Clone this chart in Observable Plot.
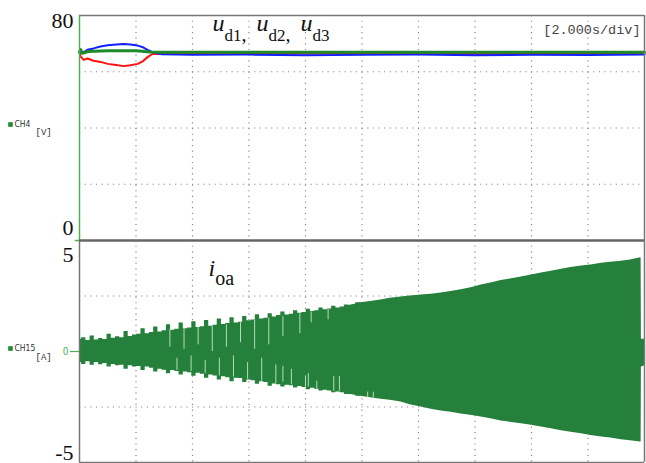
<!DOCTYPE html>
<html>
<head>
<meta charset="utf-8">
<script src="https://cdn.jsdelivr.net/npm/d3@7"></script>
<script src="https://cdn.jsdelivr.net/npm/@observablehq/plot@0.6"></script>
<style>
  html, body { margin: 0; padding: 0; background: #fff; }
  #wrap { position: relative; width: 646px; height: 463px; overflow: hidden; background: #fff; }
  #wrap svg { position: absolute; left: 0; }
</style>
</head>
<body>
<div id="wrap"></div>
<script>
// ---------- data ----------
const timeGrid = [2, 4, 6, 8, 10, 12, 14, 16, 18];      // s (2.000 s/div)
const voltGrid = [20, 40, 60];                           // V
const currentGrid = [2.5, -2.5];                         // A
const voltLabels = [80, 0];
const currentLabels = [5, -5];
const timebaseText = "[2.000s/div]";

// DC-link voltages (V)
const tRed = [0, 0.04, 0.15, 0.28, 0.5, 0.74, 1.0, 1.3, 1.56, 1.8, 2.06, 2.25, 2.41, 2.59, 2.9, 4, 6, 8, 10, 12, 14, 16, 18, 20];
const ud1 = [67.0, 65.4, 64.2, 64.7, 63.9, 63.5, 62.8, 62.4, 62.0, 62.3, 62.8, 63.8, 65.2, 66.4, 66.3, 66.4, 66.3, 66.5, 66.3, 66.4, 66.3, 66.4, 66.3, 66.4];
const tBlue = [0, 0.15, 0.28, 0.5, 0.74, 1.0, 1.3, 1.56, 1.8, 2.06, 2.25, 2.41, 2.59, 2.9, 4, 6, 8, 10, 12, 14, 16, 18, 20];
const ud2 = [66.8, 67.0, 67.8, 68.3, 69.0, 69.4, 69.7, 69.9, 69.7, 69.3, 68.7, 67.8, 67.0, 66.2, 66.0, 66.1, 65.9, 66.0, 66.1, 65.9, 66.0, 66.0, 66.1];
const tGreen = [0, 0.04, 0.1, 0.3, 1.0, 2.0, 2.5, 3.0, 6, 10, 14, 18, 20];
const ud3 = [67.0, 67.9, 66.6, 67.2, 67.5, 67.5, 67.0, 66.9, 66.9, 66.9, 66.9, 66.9, 66.9];

// output current i_oa envelope (A) — early, spiky part
const tIa = [0,0.15,0.3,0.45,0.6,0.75,0.9,1.05,1.2,1.35,1.5,1.65,1.8,1.95,2.1,2.25,2.4,2.55,2.7,2.85,3.0,3.15,3.3,3.45,3.6,3.75,3.9,4.05,4.2,4.35,4.5,4.65,4.8,4.95,5.1,5.25,5.4,5.55,5.7,5.85,6.0,6.15,6.3,6.45,6.6,6.75,6.9,7.05,7.2,7.35,7.5,7.65,7.8,7.95,8.1,8.25,8.4,8.55,8.7,8.85,9.0,9.15,9.3,9.45,9.6,9.96];
const iUpperA = [0.55,0.62,0.50,0.70,0.52,0.58,0.54,0.78,0.60,0.66,0.62,0.90,0.68,0.74,0.78,1.02,0.80,0.86,1.10,0.88,0.94,1.20,0.96,1.00,1.28,1.02,1.06,1.34,1.08,1.12,1.40,1.14,1.18,1.46,1.22,1.26,1.52,1.28,1.32,1.58,1.38,1.42,1.66,1.46,1.50,1.70,1.55,1.62,1.78,1.64,1.68,1.84,1.72,1.76,1.90,1.80,1.84,1.96,1.88,1.92,2.04,1.96,2.00,2.10,2.08,2.20];
const iLowerA = [-0.50,-0.58,-0.46,-0.62,-0.50,-0.60,-0.54,-0.70,-0.58,-0.64,-0.62,-0.80,-0.64,-0.70,-0.68,-0.86,-0.70,-0.76,-0.92,-0.80,-0.84,-1.00,-0.86,-0.90,-1.06,-0.92,-0.96,-1.12,-0.98,-1.02,-1.20,-1.06,-1.10,-1.28,-1.14,-1.18,-1.36,-1.20,-1.22,-1.40,-1.28,-1.32,-1.48,-1.36,-1.40,-1.56,-1.46,-1.50,-1.60,-1.52,-1.54,-1.64,-1.58,-1.62,-1.72,-1.66,-1.70,-1.78,-1.74,-1.78,-1.86,-1.82,-1.86,-1.94,-1.94,-2.02];
// later, smoother part
const tIb = [9.6,9.96,10.30,10.67,11.00,11.38,11.70,12.09,12.45,12.80,13.15,13.51,13.90,14.22,14.60,14.93,15.30,15.64,16.00,16.35,16.70,17.06,17.40,17.77,18.10,18.48,18.80,19.18,19.50,19.86,19.88,19.89,20.00];
const iUpperB = [2.08,2.20,2.25,2.32,2.40,2.46,2.50,2.55,2.58,2.64,2.70,2.78,2.88,3.00,3.10,3.20,3.28,3.36,3.45,3.54,3.62,3.71,3.78,3.85,3.90,3.97,4.02,4.07,4.12,4.22,4.20,0.55,0.55];
const iLowerB = [-1.94,-2.02,-2.08,-2.15,-2.20,-2.28,-2.40,-2.50,-2.60,-2.68,-2.74,-2.82,-2.88,-2.95,-3.04,-3.13,-3.20,-3.26,-3.32,-3.40,-3.48,-3.57,-3.64,-3.71,-3.78,-3.85,-3.90,-3.97,-4.02,-4.08,-4.06,-0.70,-0.65];

// light aliasing streaks inside the current band (A)
const streakT  = [3.2, 3.45, 3.7, 3.95, 4.2, 4.45, 4.7, 4.95, 5.2, 5.45, 5.7, 5.95, 6.2, 6.45, 6.7, 6.95, 7.2, 7.2, 7.5, 7.8, 8.0, 8.1, 8.2, 8.4, 8.8, 9.0, 9.2, 10.2, 10.4];
const streakY1 = [0.2, -0.3, 0.1, -0.2, 0.3, -0.4, 0.0, -0.3, 0.2, -0.2, 0.4, -0.5, 0.1, -0.3, 0.3, -0.6, 0.67, -0.67, -0.8, 0.8, -1.1, -1.0, 1.29, -1.34, 1.43, -1.12, -1.12, -1.83, -1.83];
const streakY2 = [1.0, -0.85, 1.05, -0.9, 1.1, -1.0, 1.15, -1.1, 1.2, -1.15, 1.3, -1.25, 1.4, -1.35, 1.5, -1.45, 1.56, -1.38, -1.5, 1.7, -1.7, -1.6, 1.78, -1.7, 1.9, -1.79, -1.79, -2.1, -2.1];

// ---------- style constants ----------
const gridColor = "#8a8a8a";
const frameColor = "#777";
const axisGreen = "#4cb050";
const fillGreen = "#24803a";
const serif = "Liberation Serif, Times New Roman, serif";
const mono = "Liberation Mono, DejaVu Sans Mono, monospace";
const small = "DejaVu Sans Condensed, DejaVu Sans, sans-serif";

const toPts = (ts, vs) => ts.map((t, i) => ({t, v: vs[i]}));
const bandA = tIa.map((t, i) => ({t, lo: iLowerA[i], hi: iUpperA[i]}));
const bandB = tIb.map((t, i) => ({t, lo: iLowerB[i], hi: iUpperB[i]}));
const streaks = streakT.map((t, i) => ({t, y1: streakY1[i], y2: streakY2[i]}));

const dotted = {stroke: gridColor, strokeWidth: 1.2, strokeDasharray: "1.2,4.45"};
const lbl = {frameAnchor: "top-left", lineAnchor: "middle", textAnchor: "start"};

// ---------- top panel: voltages ----------
const topChart = Plot.plot({
  width: 646, height: 241,
  marginLeft: 79, marginRight: 2, marginTop: 15, marginBottom: 1,
  x: {domain: [0, 20], axis: null},
  y: {domain: [0, 80], axis: null},
  style: {background: "transparent", overflow: "visible"},
  marks: [
    Plot.ruleX(timeGrid, dotted),
    Plot.ruleY(voltGrid, dotted),
    Plot.line(toPts(tRed, ud1), {x: "t", y: "v", stroke: "#ff1010", strokeWidth: 2}),
    Plot.line(toPts(tBlue, ud2), {x: "t", y: "v", stroke: "#1020ff", strokeWidth: 2}),
    Plot.line(toPts(tGreen, ud3), {x: "t", y: "v", stroke: "#1f8a2c", strokeWidth: 3}),
    Plot.ruleY([80], {stroke: frameColor, strokeWidth: 1.5}),
    Plot.ruleX([20], {stroke: frameColor, strokeWidth: 1.5}),
    Plot.ruleY([0], {stroke: "#666", strokeWidth: 2}),
    Plot.ruleX([0], {stroke: axisGreen, strokeWidth: 1.5}),
    Plot.ruleY([0], {x1: -0.15, x2: 0, stroke: axisGreen, strokeWidth: 1.5}),
    Plot.text([voltLabels[0]], {y: d => d, text: d => String(d), frameAnchor: "left", dx: -6, dy: 5, textAnchor: "end", fontFamily: serif, fontSize: 22, fill: "#111"}),
    Plot.text([voltLabels[1]], {y: d => d, text: d => String(d), frameAnchor: "left", dx: -6, dy: -13, textAnchor: "end", fontFamily: serif, fontSize: 22, fill: "#111"}),
    Plot.text([timebaseText], {frameAnchor: "top-right", lineAnchor: "middle", dx: -4, dy: 14, textAnchor: "end", fontFamily: mono, fontSize: 13.5, fill: "#444"}),
    Plot.dot([0], {frameAnchor: "top-left", dx: -69, dy: 109, symbol: "square", r: 2.6, fill: "#1f8a2c", stroke: "none"}),
    Plot.text(["CH4"], {...lbl, dx: -65, dy: 109, fontFamily: small, fontSize: 8.5, fill: "#333"}),
    Plot.text(["[V]"], {...lbl, dx: -44, dy: 117, fontFamily: mono, fontSize: 9, fill: "#333"}),
    Plot.text(["§UD"], {...lbl, dx: 133, dy: 8, fontFamily: serif, fontSize: 24, fill: "#111"})
  ]
});
topChart.style.top = "0px";

// ---------- bottom panel: current ----------
const bottomChart = Plot.plot({
  width: 646, height: 233,
  marginLeft: 79, marginRight: 2, marginTop: 10, marginBottom: 1,
  x: {domain: [0, 20], axis: null},
  y: {domain: [-5, 5], axis: null},
  style: {background: "transparent", overflow: "visible"},
  marks: [
    Plot.ruleX(timeGrid, dotted),
    Plot.ruleY(currentGrid, dotted),
    Plot.areaY(bandA, {x: "t", y1: "lo", y2: "hi", fill: fillGreen, curve: "step"}),
    Plot.areaY(bandB, {x: "t", y1: "lo", y2: "hi", fill: fillGreen}),
    Plot.ruleX(streaks, {x: "t", y1: "y1", y2: "y2", stroke: "#b5dcb8", strokeWidth: 1}),
    Plot.ruleX([0], {stroke: frameColor, strokeWidth: 1.5}),
    Plot.ruleX([20], {stroke: frameColor, strokeWidth: 1.5}),
    Plot.ruleY([-5], {stroke: frameColor, strokeWidth: 1.5}),
    Plot.ruleY([5], {stroke: "#666", strokeWidth: 2}),
    Plot.ruleY([0], {x1: -0.32, x2: 0, stroke: axisGreen, strokeWidth: 1.2}),
    Plot.text([0], {y: d => d, text: d => String(d), frameAnchor: "left", dx: -11, textAnchor: "end", fontFamily: small, fontSize: 10, fill: axisGreen}),
    Plot.text([currentLabels[0]], {y: d => d, text: d => String(d), frameAnchor: "left", dx: -6, dy: 14, textAnchor: "end", fontFamily: serif, fontSize: 22, fill: "#111"}),
    Plot.text([currentLabels[1]], {y: d => d, text: d => String(d), frameAnchor: "left", dx: -6, dy: -10, textAnchor: "end", fontFamily: serif, fontSize: 22, fill: "#111"}),
    Plot.dot([0], {frameAnchor: "top-left", dx: -69, dy: 108, symbol: "square", r: 2.6, fill: "#1f8a2c", stroke: "none"}),
    Plot.text(["CH15"], {...lbl, dx: -65, dy: 108, fontFamily: small, fontSize: 8.5, fill: "#333"}),
    Plot.text(["[A]"], {...lbl, dx: -44, dy: 117, fontFamily: mono, fontSize: 9, fill: "#333"}),
    Plot.text(["§IOA"], {...lbl, dx: 129, dy: 28, fontFamily: serif, fontSize: 24, fill: "#111"})
  ]
});
bottomChart.style.top = "230px";

const wrap = document.getElementById("wrap");
wrap.appendChild(topChart);
wrap.appendChild(bottomChart);

// rich text (italic symbols with subscripts)
function richText(svg, key, parts, shift) {
  d3.select(svg).selectAll("text").filter(function () { return this.textContent === key; })
    .each(function () {
      const t = d3.select(this);
      t.text(null);
      let level = 0;
      for (const p of parts) {
        const ts = t.append("tspan").text(p.s);
        if (p.italic) ts.attr("font-style", "italic");
        if (p.size) ts.attr("font-size", p.size);
        const target = p.sub ? shift : 0;
        if (target !== level) { ts.attr("dy", target - level); level = target; }
      }
    });
}
richText(topChart, "§UD", [
  {s: "u", italic: true}, {s: "d1", sub: true, size: 17}, {s: ",\u2002", sub: true, size: 20},
  {s: "u", italic: true}, {s: "d2", sub: true, size: 17}, {s: ",\u2002", sub: true, size: 20},
  {s: "u", italic: true}, {s: "d3", sub: true, size: 17}
], 10);
richText(bottomChart, "§IOA", [
  {s: "i", italic: true}, {s: "oa", sub: true, size: 20}
], 9);
</script>
</body>
</html>
